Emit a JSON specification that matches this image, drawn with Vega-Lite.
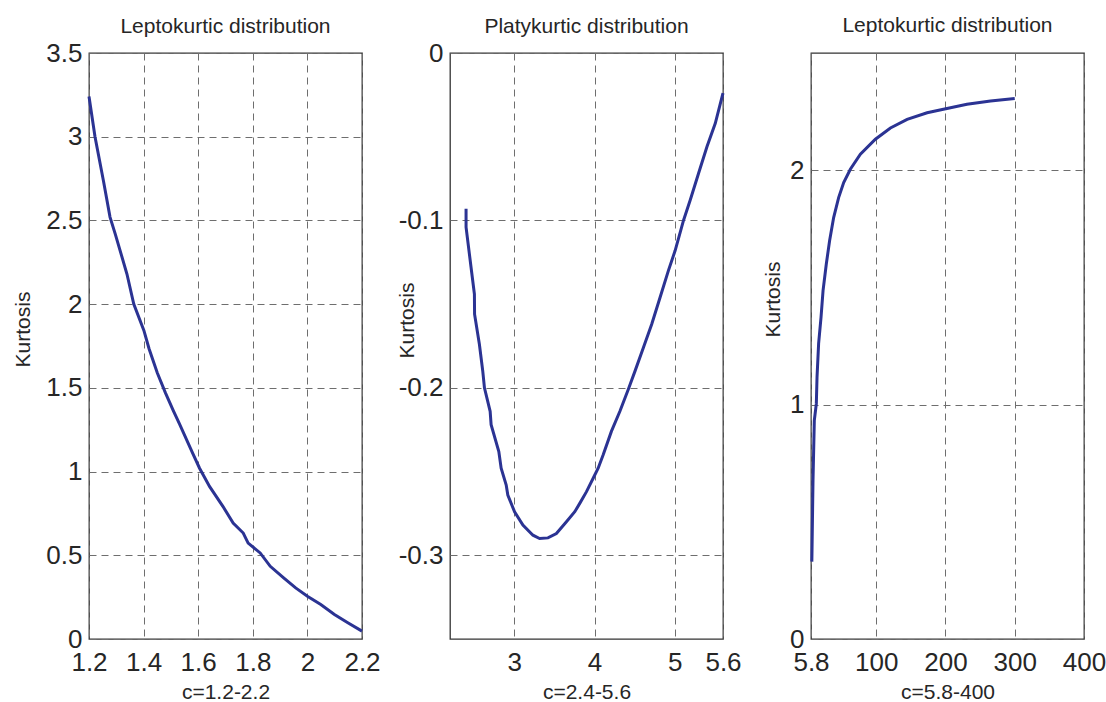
{
  "$schema": "https://vega.github.io/schema/vega-lite/v6.json",
  "background": "white",
  "padding": {"left": 11, "top": 14, "right": 2, "bottom": 0},
  "bounds": "flush",
  "spacing": 88,
  "config": {
    "view": {"stroke": "#333333", "strokeWidth": 1.3},
    "font": "Liberation Sans",
    "axis": {
      "labelFont": "Liberation Sans", "labelFontSize": 26, "labelColor": "#262626",
      "titleFont": "Liberation Sans", "titleFontSize": 21, "titleFontWeight": "normal", "titleColor": "#262626",
      "grid": true, "gridColor": "#6e6e6e", "gridDash": [7, 5], "gridWidth": 1, "gridOpacity": 1,
      "domain": false, "ticks": false, "labelOverlap": false, "labelFlush": false, "labelBound": false,
      "labelPadding": 7
    },
    "axisX": {"labelPadding": 10.5, "titlePadding": 6},
    "title": {"font": "Liberation Sans", "fontSize": 21, "fontWeight": "normal", "color": "#262626", "baseline": "alphabetic", "frame": "group"}
  },
  "hconcat": [
    {
      "width": 273, "height": 586,
      "title": {"text": "Leptokurtic distribution", "offset": 3},
      "data": {"values": [
        {"c": 1.2, "k": 3.24}, {"c": 1.222, "k": 3.0}, {"c": 1.253, "k": 2.735}, {"c": 1.277, "k": 2.52},
        {"c": 1.296, "k": 2.42}, {"c": 1.339, "k": 2.18}, {"c": 1.364, "k": 2.0}, {"c": 1.401, "k": 1.843},
        {"c": 1.42, "k": 1.734}, {"c": 1.45, "k": 1.59}, {"c": 1.48, "k": 1.47}, {"c": 1.51, "k": 1.36},
        {"c": 1.531, "k": 1.287}, {"c": 1.58, "k": 1.109}, {"c": 1.605, "k": 1.02}, {"c": 1.642, "k": 0.91},
        {"c": 1.691, "k": 0.791}, {"c": 1.728, "k": 0.692}, {"c": 1.765, "k": 0.633}, {"c": 1.783, "k": 0.573},
        {"c": 1.827, "k": 0.514}, {"c": 1.864, "k": 0.434}, {"c": 1.913, "k": 0.365}, {"c": 1.957, "k": 0.305},
        {"c": 2.0, "k": 0.255}, {"c": 2.049, "k": 0.206}, {"c": 2.099, "k": 0.146}, {"c": 2.148, "k": 0.097},
        {"c": 2.2, "k": 0.047}
      ]},
      "mark": {"type": "line", "color": "#2b3393", "strokeWidth": 3},
      "encoding": {
        "x": {"field": "c", "type": "quantitative", "scale": {"domain": [1.2, 2.2], "nice": false, "zero": false},
              "axis": {"values": [1.2, 1.4, 1.6, 1.8, 2, 2.2], "title": "c=1.2-2.2", "labelExpr": "'' + datum.value"}},
        "y": {"field": "k", "type": "quantitative", "scale": {"domain": [0, 3.5], "nice": false},
              "axis": {"values": [0, 0.5, 1, 1.5, 2, 2.5, 3, 3.5], "title": "Kurtosis", "titleX": -56, "titleY": 276, "labelExpr": "'' + datum.value"}}
      }
    },
    {
      "width": 273, "height": 586,
      "title": {"text": "Platykurtic distribution", "offset": 3},
      "data": {"values": [
        {"c": 2.4, "k": -0.093}, {"c": 2.4, "k": -0.104}, {"c": 2.462, "k": -0.128}, {"c": 2.504, "k": -0.144},
        {"c": 2.506, "k": -0.156}, {"c": 2.566, "k": -0.174}, {"c": 2.608, "k": -0.19}, {"c": 2.629, "k": -0.2},
        {"c": 2.7, "k": -0.214}, {"c": 2.712, "k": -0.222}, {"c": 2.808, "k": -0.238}, {"c": 2.837, "k": -0.248},
        {"c": 2.9, "k": -0.258}, {"c": 2.92, "k": -0.264}, {"c": 3.004, "k": -0.274}, {"c": 3.108, "k": -0.282},
        {"c": 3.233, "k": -0.288}, {"c": 3.316, "k": -0.29}, {"c": 3.42, "k": -0.2896}, {"c": 3.525, "k": -0.287},
        {"c": 3.65, "k": -0.28}, {"c": 3.754, "k": -0.274}, {"c": 3.816, "k": -0.269}, {"c": 3.9, "k": -0.262},
        {"c": 3.983, "k": -0.254}, {"c": 4.045, "k": -0.248}, {"c": 4.108, "k": -0.24}, {"c": 4.21, "k": -0.226},
        {"c": 4.316, "k": -0.214}, {"c": 4.42, "k": -0.201}, {"c": 4.504, "k": -0.19}, {"c": 4.608, "k": -0.176},
        {"c": 4.712, "k": -0.162}, {"c": 4.816, "k": -0.146}, {"c": 4.92, "k": -0.13}, {"c": 5.004, "k": -0.118},
        {"c": 5.108, "k": -0.1}, {"c": 5.191, "k": -0.088}, {"c": 5.295, "k": -0.072}, {"c": 5.4, "k": -0.056},
        {"c": 5.504, "k": -0.042}, {"c": 5.6, "k": -0.024}
      ]},
      "mark": {"type": "line", "color": "#2b3393", "strokeWidth": 3},
      "encoding": {
        "x": {"field": "c", "type": "quantitative", "scale": {"domain": [2.2, 5.6], "nice": false, "zero": false},
              "axis": {"values": [3, 4, 5, 5.6], "title": "c=2.4-5.6", "labelExpr": "'' + datum.value"}},
        "y": {"field": "k", "type": "quantitative", "scale": {"domain": [-0.35, 0], "nice": false, "zero": false},
              "axis": {"values": [0, -0.1, -0.2, -0.3], "title": "Kurtosis", "titleX": -33, "titleY": 267, "labelExpr": "'' + datum.value"}}
      }
    },
    {
      "width": 273, "height": 586,
      "title": {"text": "Leptokurtic distribution", "offset": 17},
      "data": {"values": [
        {"c": 7.0, "k": 0.33}, {"c": 7.2, "k": 0.366}, {"c": 8.7, "k": 0.678}, {"c": 10.6, "k": 0.933},
        {"c": 13.5, "k": 1.004}, {"c": 14.5, "k": 1.117}, {"c": 16.8, "k": 1.26}, {"c": 20.3, "k": 1.373},
        {"c": 23.2, "k": 1.486}, {"c": 27.9, "k": 1.6}, {"c": 32.7, "k": 1.7}, {"c": 38.5, "k": 1.798},
        {"c": 45.7, "k": 1.883}, {"c": 53, "k": 1.947}, {"c": 62.6, "k": 2.004}, {"c": 77.1, "k": 2.068},
        {"c": 98.8, "k": 2.132}, {"c": 120.5, "k": 2.18}, {"c": 144.6, "k": 2.217}, {"c": 173.5, "k": 2.245},
        {"c": 197, "k": 2.26}, {"c": 231, "k": 2.281}, {"c": 265, "k": 2.295}, {"c": 300, "k": 2.306}
      ]},
      "mark": {"type": "line", "color": "#2b3393", "strokeWidth": 3},
      "encoding": {
        "x": {"field": "c", "type": "quantitative", "scale": {"domain": [5.8, 400], "nice": false, "zero": false},
              "axis": {"values": [5.8, 100, 200, 300, 400], "title": "c=5.8-400", "labelExpr": "'' + datum.value"}},
        "y": {"field": "k", "type": "quantitative", "scale": {"domain": [0, 2.5], "nice": false},
              "axis": {"values": [0, 1, 2], "title": "Kurtosis", "titleX": -28, "titleY": 246, "labelExpr": "'' + datum.value"}}
      }
    }
  ]
}
